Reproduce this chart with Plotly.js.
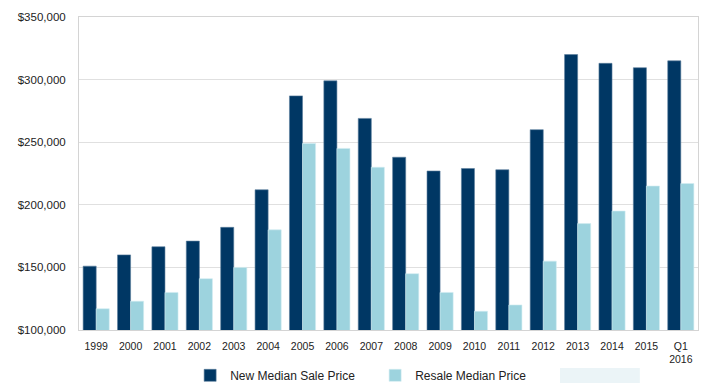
<!DOCTYPE html>
<html>
<head>
<meta charset="utf-8">
<script src="https://cdn.plot.ly/plotly-3.0.1.min.js"></script>
<style>
  html, body { margin: 0; padding: 0; background: #ffffff; }
  #chart { width: 705px; height: 383px; }
</style>
</head>
<body>
<div id="chart"></div>
<script>
// Median home prices by year
const years = ["1999", "2000", "2001", "2002", "2003", "2004", "2005", "2006", "2007",
               "2008", "2009", "2010", "2011", "2012", "2013", "2014", "2015", "Q1<br>2016"];
const newMedianSalePrice = [151000, 160000, 166500, 171000, 182000, 212000, 287000, 299000, 269000,
                            238000, 227000, 229000, 228000, 260000, 320000, 313000, 309500, 315000];
const resaleMedianPrice = [117000, 123000, 130000, 141000, 150000, 180000, 249000, 245000, 230000,
                           145000, 130000, 115000, 120000, 155000, 185000, 195000, 215000, 217000];
const yTickValues = [100000, 150000, 200000, 250000, 300000, 350000];
const yTickLabels = ["$100,000", "$150,000", "$200,000", "$250,000", "$300,000", "$350,000"];

const navy = "#003764";
const lightBlue = "#9dd3de";

const traces = [
  {
    type: "bar",
    name: "New Median Sale Price",
    x: years,
    y: newMedianSalePrice,
    marker: { color: navy, line: { color: "#5b7d9c", width: 0.6 } },
    hoverinfo: "x+y"
  },
  {
    type: "bar",
    name: "Resale Median Price",
    x: years,
    y: resaleMedianPrice,
    marker: { color: lightBlue, line: { color: "#d2ecf1", width: 0.6 } },
    hoverinfo: "x+y"
  }
];

const layout = {
  width: 705,
  height: 383,
  margin: { l: 79, r: 7, t: 17, b: 53, autoexpand: false },
  paper_bgcolor: "#ffffff",
  plot_bgcolor: "#ffffff",
  font: { family: "Liberation Sans, Arial, sans-serif", color: "#222222", size: 11 },
  barmode: "group",
  bargap: 0.24,
  bargroupgap: 0,
  showlegend: true,
  legend: {
    orientation: "h",
    xref: "container",
    yref: "container",
    x: 0.2697,
    xanchor: "left",
    y: 0.02,
    yanchor: "middle",
    entrywidth: 140,
    entrywidthmode: "pixels",
    font: { size: 12, color: "#222222" },
    itemwidth: 30,
    tracegroupgap: 0,
    bgcolor: "rgba(0,0,0,0)"
  },
  xaxis: {
    type: "category",
    tickfont: { size: 10.5, color: "#222222" },
    showline: true,
    linecolor: "#d4d4d4",
    linewidth: 1,
    mirror: true,
    showgrid: false,
    ticks: "",
    ticklabelstandoff: 6,
    fixedrange: true
  },
  yaxis: {
    range: [100000, 350000],
    tickvals: yTickValues,
    ticktext: yTickLabels,
    tickfont: { size: 11.5, color: "#222222" },
    showgrid: true,
    gridcolor: "#e0e0e0",
    gridwidth: 1,
    showline: true,
    linecolor: "#d4d4d4",
    linewidth: 1,
    mirror: true,
    zeroline: false,
    ticks: "",
    ticklabelstandoff: 10,
    fixedrange: true
  },
  shapes: [
    {
      type: "rect",
      xref: "paper",
      yref: "paper",
      x0: 0.777,
      x1: 0.906,
      y0: -0.17,
      y1: -0.1214,
      fillcolor: "#ebf4f7",
      line: { width: 0 },
      layer: "below"
    }
  ]
};

Plotly.newPlot("chart", traces, layout, { displayModeBar: false, staticPlot: true });
</script>
</body>
</html>
